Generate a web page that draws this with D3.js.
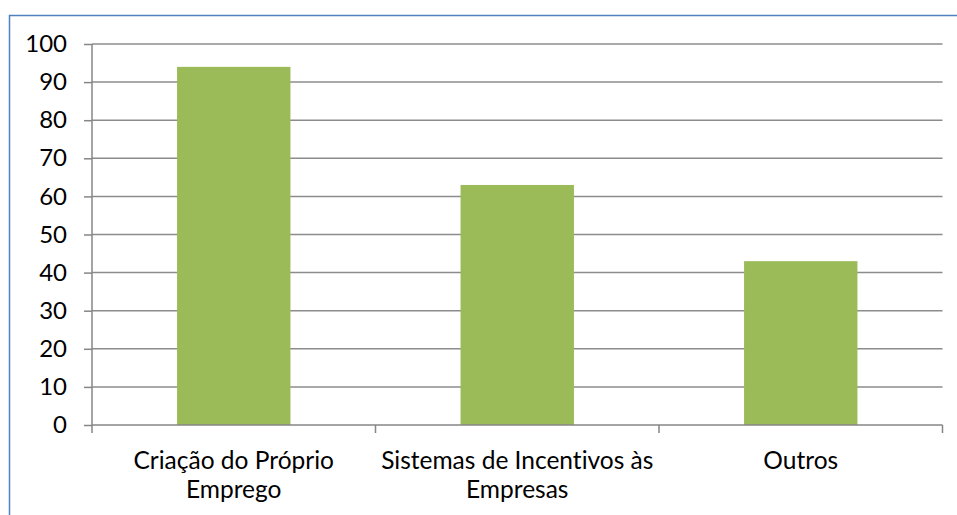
<!DOCTYPE html>
<html>
<head>
<meta charset="utf-8">
<script src="https://cdn.jsdelivr.net/npm/d3@7"></script>
<style>
  body { margin: 0; background: #fff; }
  svg { display: block; }
  text { font-variant-ligatures: none; }
</style>
</head>
<body>
<svg id="chart" width="957" height="515"></svg>
<script>
// data
var categories = [["Criação do Próprio", "Emprego"], ["Sistemas de Incentivos às", "Empresas"], ["Outros"]];
var values = [94, 63, 43];
var yTicks = [0, 10, 20, 30, 40, 50, 60, 70, 80, 90, 100];

(function () {
  var svg = d3.select("#chart");
  var font = "Lato, 'Noto Sans', sans-serif";

  var plotLeft = 92, plotRight = 942.5, plotTop = 44, plotBottom = 425;

  // outer frame, runs off the right and bottom edge
  svg.append("rect")
    .attr("x", 9.5).attr("y", 15.5)
    .attr("width", 1000).attr("height", 600)
    .attr("fill", "none")
    .attr("stroke", "#4f81bd")
    .attr("stroke-width", 1.5);

  var x = d3.scaleBand()
    .domain(d3.range(categories.length))
    .range([plotLeft, plotRight])
    .paddingInner(0.6)
    .paddingOuter(0.3);

  var y = d3.scaleLinear().domain([0, 100]).range([plotBottom, plotTop]);

  // gridlines
  svg.append("g").selectAll("line").data(yTicks.slice(1)).enter().append("line")
    .attr("x1", plotLeft).attr("x2", plotRight)
    .attr("y1", function (d) { return y(d); })
    .attr("y2", function (d) { return y(d); })
    .attr("stroke", "#8c8c8c")
    .attr("stroke-width", 1.5);

  // bars
  svg.append("g").selectAll("rect").data(values).enter().append("rect")
    .attr("x", function (d, i) { return x(i); })
    .attr("y", function (d) { return y(d); })
    .attr("width", x.bandwidth())
    .attr("height", function (d) { return plotBottom - y(d); })
    .attr("fill", "#9bbb59");

  // y axis
  var yAxis = svg.append("g")
    .attr("transform", "translate(" + plotLeft + ",0)")
    .call(d3.axisLeft(y).tickValues(yTicks).tickSize(8).tickPadding(17));
  yAxis.selectAll("line, path").attr("stroke", "#868686").attr("stroke-width", 1.5);
  yAxis.select(".domain").attr("d", "M0," + plotTop + "V" + plotBottom);
  yAxis.selectAll("text")
    .style("font-family", font)
    .style("font-size", "24px")
    .attr("fill", "#000");

  // x axis
  var step = (plotRight - plotLeft) / categories.length;
  var xAxis = svg.append("g").attr("transform", "translate(0," + plotBottom + ")");
  xAxis.append("line")
    .attr("x1", plotLeft).attr("x2", plotRight)
    .attr("stroke", "#868686").attr("stroke-width", 1.5);
  xAxis.selectAll(".tick").data(d3.range(categories.length + 1)).enter().append("line")
    .attr("x1", function (d) { return plotLeft + d * step; })
    .attr("x2", function (d) { return plotLeft + d * step; })
    .attr("y1", 0).attr("y2", 8)
    .attr("stroke", "#868686").attr("stroke-width", 1.5);

  var labels = xAxis.selectAll(".lbl").data(categories).enter().append("text")
    .attr("text-anchor", "middle")
    .style("font-family", font)
    .style("font-size", "24.5px")
    .attr("fill", "#000");
  labels.selectAll("tspan").data(function (d, i) { return d.map(function (t) { return [t, i]; }); })
    .enter().append("tspan")
    .attr("x", function (d) { return x(d[1]) + x.bandwidth() / 2; })
    .attr("y", function (d, j) { return 44 + j * 29; })
    .text(function (d) { return d[0]; });
})();
</script>
</body>
</html>
